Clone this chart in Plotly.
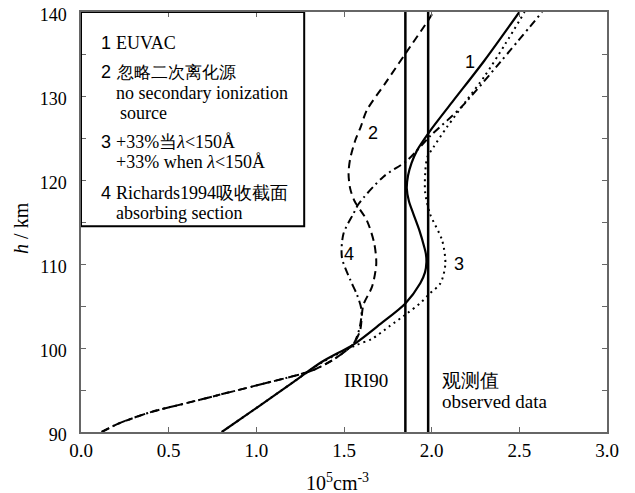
import plotly.graph_objects as go

# ---------------- data ----------------
x_ticks = [0.0, 0.5, 1.0, 1.5, 2.0, 2.5, 3.0]
x_tick_labels = ["0.0", "0.5", "1.0", "1.5", "2.0", "2.5", "3.0"]
y_ticks = [90, 100, 110, 120, 130, 140]
y_tick_labels = ["90", "100", "110", "120", "130", "140"]

# Curve 1: EUVAC (solid)
h1 = [90, 93, 96, 98.3, 100.5, 102.9, 105.3, 107.7, 109, 110.2, 111.2, 112, 114, 116,
      117.5, 119, 120.5, 122, 123.5, 125.7, 129.3, 134.2, 140]
n1 = [0.803, 1.01, 1.215, 1.37, 1.56, 1.71, 1.85, 1.935, 1.962, 1.97, 1.967, 1.958, 1.93,
      1.895, 1.87, 1.858, 1.865, 1.885, 1.916, 1.986, 2.118, 2.30, 2.50]

# Curve 2: no secondary ionization source (dashed)
h2 = [90, 91, 92.4, 93.4, 94.4, 95.4, 96.4, 97.3, 98.5, 99.5, 100.5, 102.1, 105.1,
      107.3, 110.0, 112.5, 115.2, 117.5, 119.0, 120.8, 122.5, 124.7, 126.3, 128.3,
      131.5, 135.0, 139.0, 140]
n2 = [0.118, 0.213, 0.403, 0.594, 0.784, 0.974, 1.164, 1.317, 1.43, 1.50, 1.554, 1.592,
      1.61, 1.66, 1.684, 1.672, 1.63, 1.56, 1.535, 1.526, 1.535, 1.564, 1.595, 1.63,
      1.735, 1.849, 1.98, 2.01]

# Curve 3: +33% when lambda < 150 A (dotted)
h3 = [90, 93, 96, 98.3, 100.3, 101.1, 102.6, 104.1, 105.5, 106.5, 107.7, 110.0,
      112.8, 116.0, 118.5, 120.8, 122.7, 123.9, 126.3, 129.5, 132.3, 136.2, 140]
n3 = [0.803, 1.01, 1.215, 1.375, 1.565, 1.66, 1.76, 1.859, 1.943, 1.99, 2.05, 2.078,
      2.06, 1.99, 1.963, 1.963, 1.975, 2.01, 2.087, 2.2, 2.30, 2.42, 2.53]

# Curve 4: Richards1994 absorbing section (dash-dot)
h4 = [90, 91, 92.4, 93.4, 94.4, 95.4, 96.4, 97.3, 98.5, 99.5, 100.5, 102.5, 104.5,
      106.3, 108.1, 110.8, 113.6, 116.0, 117.2, 120.4, 122.3, 125.2, 128.7, 134, 140]
n4 = [0.118, 0.213, 0.403, 0.594, 0.784, 0.974, 1.164, 1.317, 1.43, 1.50, 1.555, 1.59,
      1.60, 1.575, 1.536, 1.488, 1.497, 1.554, 1.585, 1.725, 1.859, 1.99, 2.17, 2.39, 2.63]

# Reference values (vertical lines)
iri90_value = 1.85
observed_value = 1.98
h_range = [90, 140]

SERIF = "Liberation Serif"
SANS = "Liberation Sans"

# page body has an 8px margin; plot area aimed at page px x 81..607, y 12..432
fig = go.Figure()

for v in (iri90_value, observed_value):
    fig.add_trace(go.Scatter(x=[v, v], y=h_range, mode="lines",
                             line=dict(color="black", width=2.5), showlegend=False,
                             hoverinfo="skip"))

fig.add_trace(go.Scatter(x=n1, y=h1, mode="lines", name="1",
                         line=dict(color="black", width=2.2, shape="spline", smoothing=0.8)))
fig.add_trace(go.Scatter(x=n2, y=h2, mode="lines", name="2",
                         line=dict(color="black", width=2, dash="8px,5px", shape="spline", smoothing=0.8)))
fig.add_trace(go.Scatter(x=n3, y=h3, mode="lines", name="3",
                         line=dict(color="black", width=2, dash="2px,4px", shape="spline", smoothing=0.8)))
fig.add_trace(go.Scatter(x=n4, y=h4, mode="lines", name="4",
                         line=dict(color="black", width=2, dash="8px,4px,2px,4px", shape="spline", smoothing=0.8)))

fig.update_layout(
    width=627, height=485, margin=dict(l=73, r=28, t=4, b=61),
    paper_bgcolor="white", plot_bgcolor="white", showlegend=False,
    font=dict(family=SERIF, size=18, color="black"),
    xaxis=dict(range=[0, 3], tickmode="array", tickvals=x_ticks, ticktext=x_tick_labels,
               tickfont=dict(family=SERIF, size=19, color="black"),
               ticklabeloverflow="allow", automargin=False,
               showline=True, linecolor="#666666", linewidth=1.5, mirror="ticks",
               ticks="inside", ticklen=5, tickcolor="#666666", tickwidth=1,
               showgrid=False, zeroline=False),
    yaxis=dict(range=[90, 140], tickmode="array", tickvals=y_ticks, ticktext=y_tick_labels,
               tickfont=dict(family=SERIF, size=18, color="black"),
               ticklabelstandoff=9, ticklabelshift=3, ticklabeloverflow="allow",
               automargin=False,
               showline=True, linecolor="#666666", linewidth=1.5, mirror="ticks",
               ticks="inside", ticklen=5, tickcolor="#666666", tickwidth=1,
               showgrid=False, zeroline=False,
               minor=dict(dtick=5, ticks="inside", ticklen=5, tickcolor="#666666", tickwidth=1)),
)

# axis titles
fig.add_annotation(x=0.487, y=-0.12, xref="paper", yref="paper", showarrow=False,
                   text="10<sup>5</sup>cm<sup>-3</sup>", xanchor="center", yanchor="middle",
                   font=dict(family=SERIF, size=20, color="black"))
fig.add_annotation(x=-0.114, y=0.486, xref="paper", yref="paper", showarrow=False,
                   text="<i>h</i> / km", textangle=-90, xanchor="center", yanchor="middle",
                   font=dict(family=SERIF, size=20, color="black"))

# legend box
fig.add_shape(type="rect", xref="x", yref="y", x0=0, x1=1.273, y0=114.5, y1=140,
              line=dict(color="black", width=2), fillcolor="rgba(0,0,0,0)")

def ann(x, y, text, family=SERIF, size=18, xanchor="left"):
    fig.add_annotation(x=x, y=y, xref="x", yref="y", text=text, showarrow=False,
                       xanchor=xanchor, yanchor="middle",
                       font=dict(family=family, size=size, color="black"))

def px_x(p):
    return (p - 81) / 175.2

def px_y(p):
    return 140 - (p - 11.7) / 8.4

num_x = px_x(99)
txt_x = px_x(114)
ann(num_x, px_y(43), "1", SANS)
ann(txt_x, px_y(43), "EUVAC")
ann(num_x, px_y(72), "2", SANS)
ann(txt_x, px_y(72), "忽略二次离化源", size=17)
ann(txt_x, px_y(93), "no secondary ionization")
ann(txt_x + 0.02, px_y(113), "source")
ann(num_x, px_y(142), "3", SANS)
ann(txt_x, px_y(142), "+33%当<i>λ</i>&lt;150Å")
ann(txt_x, px_y(162), "+33% when <i>λ</i>&lt;150Å")
ann(num_x, px_y(193), "4", SANS)
ann(txt_x, px_y(193), "Richards1994吸收截面")
ann(txt_x, px_y(213), "absorbing section")

ann(px_x(470), px_y(62), "1", SANS, xanchor="center")
ann(px_x(373), px_y(133), "2", SANS, xanchor="center")
ann(px_x(459), px_y(264), "3", SANS, xanchor="center")
ann(px_x(349), px_y(254), "4", SANS, xanchor="center")

ann(px_x(366), px_y(380), "IRI90", size=19, xanchor="center")
ann(px_x(440), px_y(380), "观测值", size=19)
ann(px_x(440), px_y(401), "observed data", size=19)

fig.write_html("out.html")
